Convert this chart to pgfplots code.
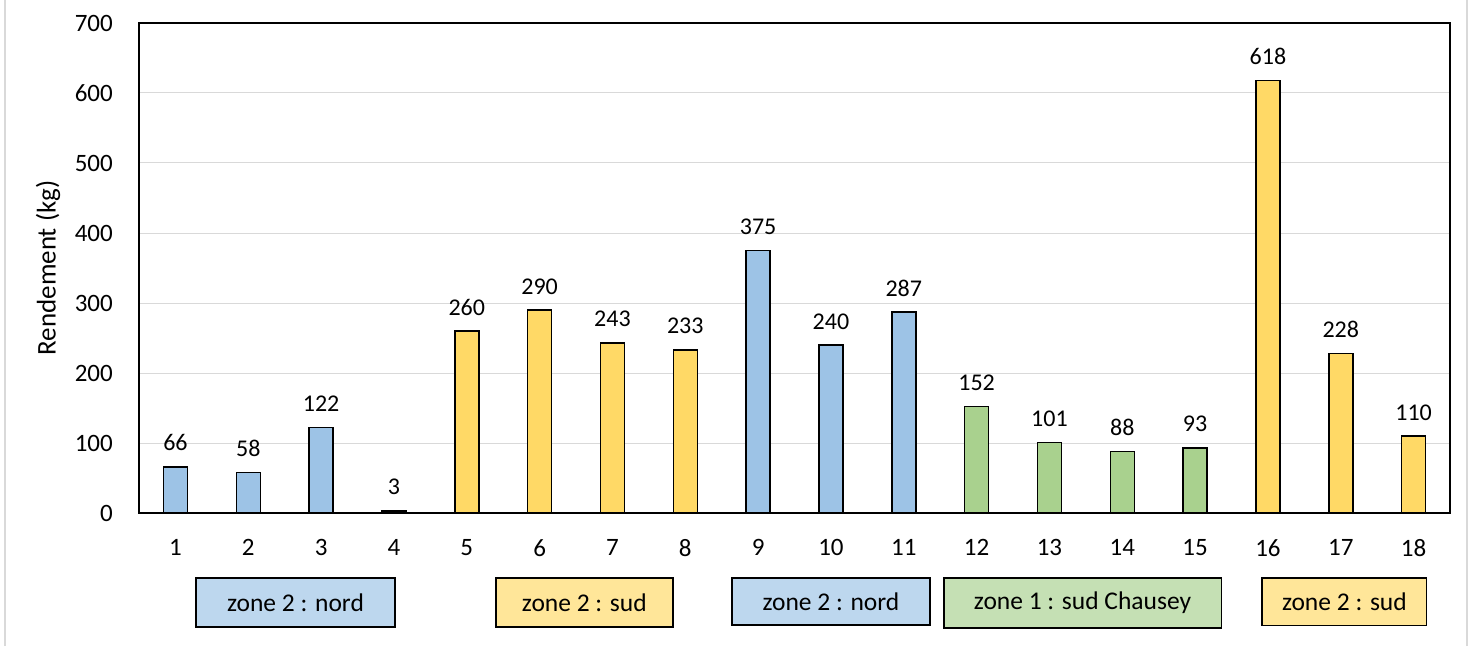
\documentclass[border=0pt]{standalone}
\usepackage{fontspec}
\setmainfont{Carlito}
\usepackage{pgfplots}
\pgfplotsset{compat=1.18}

\definecolor{barblue}{HTML}{9DC3E6}
\definecolor{baryellow}{HTML}{FFD966}
\definecolor{bargreen}{HTML}{A9D18E}
\definecolor{boxblue}{HTML}{BDD7EE}
\definecolor{boxyellow}{HTML}{FFE699}
\definecolor{boxgreen}{HTML}{C5E0B4}
\definecolor{gridgrey}{HTML}{D9D9D9}

\begin{document}
\begin{tikzpicture}
\useasboundingbox (0pt,0pt) rectangle (1477pt,646pt);
% outer chart border
\draw[gridgrey, line width=2pt] (5pt,0pt) -- (5pt,646pt);
\draw[gridgrey, line width=2pt] (1467pt,0pt) -- (1467pt,646pt);

\begin{axis}[
    at={(139pt,133pt)}, anchor=south west,
    width=1311pt, height=490pt, scale only axis,
    xmin=0.5, xmax=18.5, ymin=0, ymax=700,
    xtick={1,...,18}, ytick={0,100,...,700},
    major tick length=0pt,
    ymajorgrids, grid style={gridgrey, line width=1pt},
    axis line style={black, line width=1.6pt},
    font=\fontsize{25}{29}\selectfont,
    /pgf/number format/assume math mode=true,
    xticklabel style={anchor=north, inner sep=0pt, yshift=-26pt},
    yticklabel style={anchor=east, inner sep=0pt, xshift=-26pt},
    ylabel={Rendement (kg)},
    every axis y label/.style={at={(rel axis cs:0,0.5)}, xshift=-91pt, rotate=90, anchor=center, font=\fontsize{27}{31}\selectfont},
    ybar, bar width=24pt,
    nodes near coords,
    every node near coord/.append style={font=\fontsize{24}{28}\selectfont, black, anchor=south, inner sep=0pt, yshift=15pt},
    clip=false
]

% zone 2 : nord
\addplot[bar shift=0pt, fill=barblue, draw=black, line width=1.5pt] coordinates {
    (1,66) (2,58) (3,122) (4,3) (9,375) (10,240) (11,287)
};
% zone 2 : sud
\addplot[bar shift=0pt, fill=baryellow, draw=black, line width=1.5pt] coordinates {
    (5,260) (6,290) (7,243) (8,233) (16,618) (17,228) (18,110)
};
% zone 1 : sud Chausey
\addplot[bar shift=0pt, fill=bargreen, draw=black, line width=1.5pt] coordinates {
    (12,152) (13,101) (14,88) (15,93)
};

% zone boxes under the axis
\draw[fill=boxblue, line width=1.5pt] (axis cs:1.283,-92.9) rectangle (axis cs:4.015,-163);
\node[font=\fontsize{25.5}{29}\selectfont] at (axis cs:2.649,-128) {zone 2 : nord};
\draw[fill=boxyellow, line width=1.5pt] (axis cs:5.40,-92.9) rectangle (axis cs:7.83,-163);
\node[font=\fontsize{25.5}{29}\selectfont] at (axis cs:6.615,-128) {zone 2 : sud};
\draw[fill=boxblue, line width=1.5pt] (axis cs:8.64,-92.9) rectangle (axis cs:11.36,-160);
\node[font=\fontsize{25.5}{29}\selectfont] at (axis cs:10.0,-126.5) {zone 2 : nord};
\draw[fill=boxgreen, line width=1.5pt] (axis cs:11.55,-92.9) rectangle (axis cs:15.36,-164);
\node[font=\fontsize{25.5}{29}\selectfont] at (axis cs:13.455,-128.5) {zone 1 : sud Chausey};
\draw[fill=boxyellow, line width=1.5pt] (axis cs:15.92,-92.9) rectangle (axis cs:18.18,-161);
\node[font=\fontsize{25.5}{29}\selectfont] at (axis cs:17.05,-127) {zone 2 : sud};

\end{axis}
\end{tikzpicture}
\end{document}
